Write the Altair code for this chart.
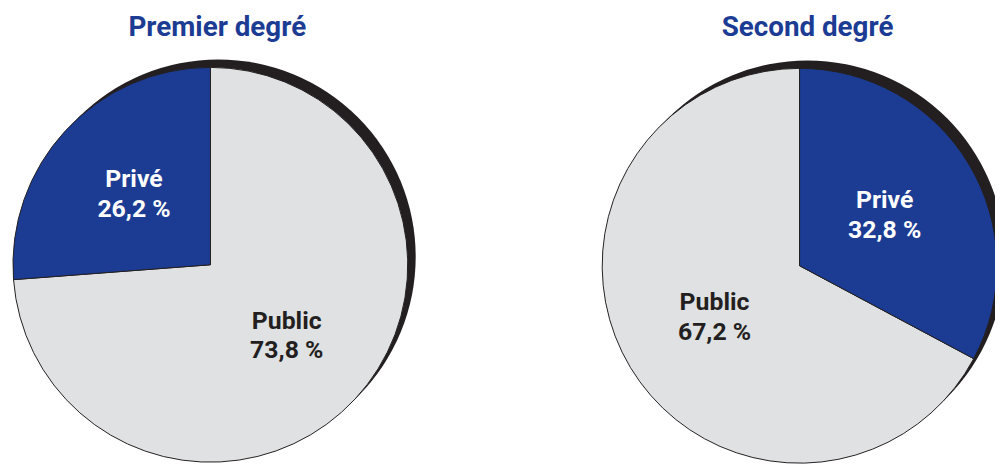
import altair as alt
import pandas as pd

# ---- data ----
levels = ["Premier degré", "Second degré"]
sectors = ["Public", "Privé"]
premier_values = [73.8, 26.2]
second_values = [67.2, 32.8]
premier_labels = ["Public\n73,8 %", "Privé\n26,2 %"]
second_labels = ["Public\n67,2 %", "Privé\n32,8 %"]
# drawing order (clockwise from 12 o'clock)
premier_order = [0, 1]
second_order = [1, 0]

BLUE = "#1c3c94"
GREY = "#dfe1e2"
DARK = "#231f20"
FONT = "Roboto"

df1 = pd.DataFrame({"sector": sectors, "value": premier_values,
                    "label": premier_labels, "ord": premier_order})
df2 = pd.DataFrame({"sector": sectors, "value": second_values,
                    "label": second_labels, "ord": second_order})
df_titles = pd.DataFrame({"level": levels})

R = 199
LH = 30
color_scale = alt.Scale(domain=sectors, range=[GREY, BLUE])


def pie(df, cx, cy, label_r, title, tx):
    shadow = alt.Chart(df_titles).transform_filter(
        alt.datum.level == title
    ).mark_arc(radius=R, color=DARK).encode(
        theta=alt.value(0), theta2=alt.value(6.2832),
        x=alt.value(cx + 8), y=alt.value(cy - 8),
    )
    arcs = alt.Chart(df).mark_arc(radius=R, stroke=DARK, strokeWidth=1).encode(
        theta=alt.Theta("value:Q", stack=True),
        color=alt.Color("sector:N", scale=color_scale, legend=None),
        order=alt.Order("ord:Q"),
        x=alt.value(cx), y=alt.value(cy),
    )
    labels = alt.Chart(df).mark_text(
        radius=label_r, fontSize=25, fontWeight="bold", font=FONT,
        lineBreak="\n", lineHeight=LH, align="center", baseline="middle",
        dy=-LH / 2,
    ).encode(
        theta=alt.Theta("value:Q", stack=True),
        order=alt.Order("ord:Q"),
        text="label:N",
        color=alt.condition(alt.datum.sector == "Privé",
                            alt.value("white"), alt.value(DARK)),
        x=alt.value(cx), y=alt.value(cy),
    )
    ttl = alt.Chart(df_titles).transform_filter(
        alt.datum.level == title
    ).mark_text(
        fontSize=28, fontWeight="bold", font=FONT, color=BLUE,
        align="center", baseline="alphabetic",
    ).encode(text="level:N", x=alt.value(tx), y=alt.value(26))
    return alt.layer(shadow, arcs, labels, ttl).resolve_scale(theta="independent")


left = pie(df1, 204, 257, 105, levels[0], 211)
right = pie(df2, 798, 258, 100, levels[1], 806)

chart = alt.layer(left, right).resolve_scale(theta="independent").properties(
    width=995, height=456, padding=0,
    autosize=alt.AutoSizeParams(type="none"),
).configure_view(stroke=None)

chart.save("out.html", embed_options={"renderer": "svg", "actions": False})
